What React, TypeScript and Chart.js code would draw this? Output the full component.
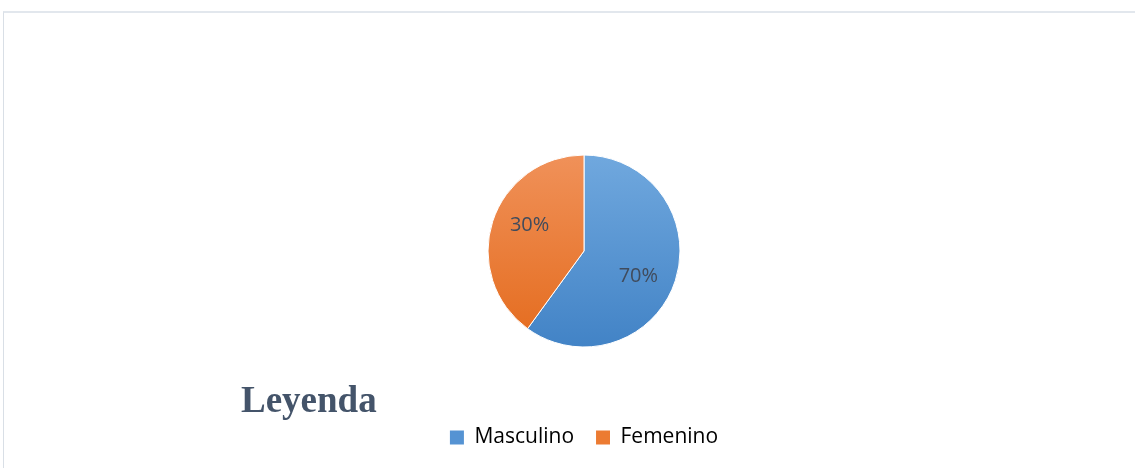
import React, { useEffect, useRef } from "react";
import { Chart, registerables } from "chart.js";

Chart.register(...registerables);

const categories = ["Masculino", "Femenino"];
const sliceValues = [60, 40];
const sliceLabels = ["70%", "30%"];
const legendTitle = "Leyenda";

const topColors = ["#70a8de", "#f09159"];
const bottomColors = ["#4283c6", "#e46b1d"];
const legendColors = ["#5593d3", "#ec7b32"];

const W = 1135;
const H = 468;

const labelPlugin = {
  id: "sliceLabels",
  afterDatasetsDraw(chart: any) {
    const ctx = chart.ctx;
    const meta = chart.getDatasetMeta(0);
    ctx.save();
    ctx.font = '20px "Open Sans", "Noto Sans", sans-serif';
    ctx.fillStyle = "#404b5c";
    ctx.textAlign = "center";
    ctx.textBaseline = "middle";
    meta.data.forEach((arc: any, i: number) => {
      const { x, y, startAngle, endAngle, outerRadius } = arc.getProps(
        ["x", "y", "startAngle", "endAngle", "outerRadius"],
        true
      );
      const mid = (startAngle + endAngle) / 2 + (7 * Math.PI) / 180;
      const r = outerRadius * 0.625;
      ctx.fillText(sliceLabels[i], x + Math.cos(mid) * r, y + Math.sin(mid) * r);
    });
    ctx.restore();
  },
};

const titlePlugin = {
  id: "leyendaTitle",
  afterDraw(chart: any) {
    const ctx = chart.ctx;
    ctx.save();
    ctx.font = 'bold 37px "Liberation Serif", "Times New Roman", serif';
    ctx.fillStyle = "#44546a";
    ctx.textAlign = "left";
    ctx.textBaseline = "alphabetic";
    ctx.fillText(legendTitle, 241, 412);
    ctx.restore();
  },
};

export default function App() {
  const ref = useRef<HTMLCanvasElement>(null);
  useEffect(() => {
    if (!ref.current) return;
    const chart = new Chart(ref.current, {
      type: "pie",
      data: {
        labels: categories,
        datasets: [
          {
            data: sliceValues,
            backgroundColor: (c: any) => {
              const area = c.chart.chartArea;
              const i = c.dataIndex;
              if (!area) return topColors[i];
              const cy = (area.top + area.bottom) / 2;
              const g = c.chart.ctx.createLinearGradient(0, cy - 96, 0, cy + 96);
              g.addColorStop(0, topColors[i]);
              g.addColorStop(1, bottomColors[i]);
              return g;
            },
            borderColor: "#ffffff",
            borderWidth: 1,
          },
        ],
      },
      options: {
        responsive: false,
        animation: false,
        devicePixelRatio: 1,
        radius: 96,
        layout: { padding: { left: 33, right: 0, top: 97, bottom: 10 } },
        plugins: {
          tooltip: { enabled: false },
          legend: {
            position: "bottom",
            labels: {
              boxWidth: 14,
              boxHeight: 14,
              padding: 22,
              color: "#44546a",
              font: { size: 21, family: '"Open Sans", "Noto Sans", sans-serif' },
              generateLabels: () =>
                categories.map((t, i) => ({
                  text: t,
                  fillStyle: legendColors[i],
                  strokeStyle: "transparent",
                  lineWidth: 0,
                  hidden: false,
                  index: i,
                })),
            },
          },
        },
      } as any,
      plugins: [labelPlugin, titlePlugin],
    });
    return () => chart.destroy();
  }, []);
  return (
    <div style={{ position: "absolute", left: 0, top: 0, width: W, height: H, background: "#fff" }}>
      <div
        style={{
          position: "absolute",
          left: 3,
          top: 11,
          right: 0,
          bottom: 0,
          borderTop: "2px solid #e2e7ed",
          borderLeft: "1px solid #d9dfe6",
        }}
      />
      <canvas ref={ref} width={W} height={H} style={{ position: "absolute", left: 0, top: 0 }} />
    </div>
  );
}
